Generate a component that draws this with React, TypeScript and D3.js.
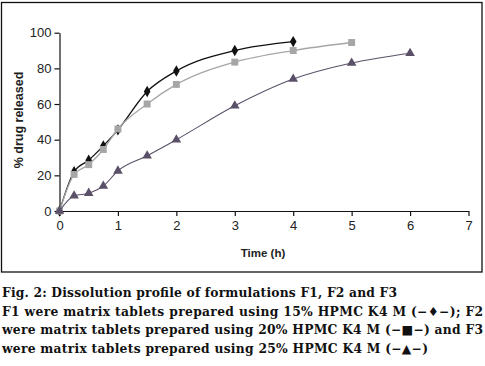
import { useEffect, useRef } from "react";
import * as d3 from "d3";

const times = [0, 0.25, 0.5, 0.75, 1, 1.5, 2, 3, 4, 5, 6];
const f1 = [0, 22, 28.5, 36.5, 45.5, 67, 78.5, 90, 95];
const f2 = [0, 20.5, 26, 34.5, 46, 60, 71, 83.5, 90, 94.5];
const f3 = [0, 8.5, 10, 14, 22.5, 31, 40, 59, 74, 83, 88.5];
const xTicks = [0, 1, 2, 3, 4, 5, 6, 7];
const yTicks = [0, 20, 40, 60, 80, 100];
const captionLines = [
  "Fig. 2: Dissolution profile of formulations F1, F2 and F3",
  "F1 were matrix tablets prepared using 15% HPMC K4 M (\u2212\u2666\u2212); F2",
  "were matrix tablets prepared using 20% HPMC K4 M (\u2212\u25a0\u2212) and F3",
  "were matrix tablets prepared using 25% HPMC K4 M (\u2212\u25b2\u2212)",
];

export default function App() {
  const svgRef = useRef<SVGSVGElement>(null);

  useEffect(() => {
    const svg = d3.select(svgRef.current);
    svg.selectAll("*").remove();

    // outer frame around the plot
    svg
      .append("rect")
      .attr("x", 1.5)
      .attr("y", 2.5)
      .attr("width", 480.5)
      .attr("height", 269.5)
      .attr("fill", "none")
      .attr("stroke", "#111")
      .attr("stroke-width", 1.3);

    const x = d3.scaleLinear().domain([0, 7]).range([59.5, 468.5]);
    const y = d3.scaleLinear().domain([0, 100]).range([211, 32.7]);

    const g = svg.append("g").style("font-family", "Liberation Sans, Arial, sans-serif");

    const xAxis = g
      .append("g")
      .attr("transform", `translate(0,${y(0)})`)
      .call(
        d3
          .axisBottom(x)
          .tickValues(xTicks)
          .tickFormat(d3.format("d"))
          .tickSize(5)
          .tickSizeOuter(0)
          .tickPadding(5)
      );
    const yAxis = g
      .append("g")
      .attr("transform", `translate(${x(0)},0)`)
      .call(d3.axisLeft(y).tickValues(yTicks).tickSize(5).tickSizeOuter(0).tickPadding(3));
    [xAxis, yAxis].forEach((a) => {
      a.select(".domain").attr("stroke", "#111").attr("stroke-width", 1.2);
      a.selectAll(".tick line").attr("stroke", "#111").attr("stroke-width", 1.2);
      a.selectAll(".tick text")
        .attr("fill", "#222")
        .style("font-size", "13px")
        .style("font-family", "Liberation Sans, Arial, sans-serif");
    });

    g.append("text")
      .attr("x", 263)
      .attr("y", 257)
      .attr("text-anchor", "middle")
      .attr("fill", "#222")
      .style("font-size", "11.5px")
      .style("font-weight", "bold")
      .text("Time (h)");

    g.append("text")
      .attr("transform", `translate(23,120) rotate(-90)`)
      .attr("text-anchor", "middle")
      .attr("fill", "#222")
      .style("font-size", "12.5px")
      .style("font-weight", "bold")
      .text("% drug released");

    const series = [
      { vals: f1, color: "#111111", width: 1.3, symbol: d3.symbolDiamond, size: 38 },
      { vals: f2, color: "#a6a6a6", width: 1.3, symbol: d3.symbolSquare, size: 48 },
      { vals: f3, color: "#5a5068", width: 1.1, symbol: d3.symbolTriangle, size: 40 },
    ];

    series.forEach((s) => {
      const pts = s.vals.map((v, i) => [times[i], v] as [number, number]);
      const line = d3
        .line<[number, number]>()
        .x((d) => x(d[0]))
        .y((d) => y(d[1]))
        .curve(d3.curveMonotoneX);
      g.append("path")
        .datum(pts)
        .attr("fill", "none")
        .attr("stroke", s.color)
        .attr("stroke-width", s.width)
        .attr("d", line);
      g.selectAll(null)
        .data(pts)
        .enter()
        .append("path")
        .attr("transform", (d) => `translate(${x(d[0])},${y(d[1])})`)
        .attr("d", d3.symbol().type(s.symbol).size(s.size)())
        .attr("fill", s.color);
    });

    const cap = svg
      .append("g")
      .style("font-family", "DejaVu Serif, serif")
      .style("font-weight", "bold")
      .style("font-size", "12.3px")
      .attr("fill", "#111");
    cap
      .selectAll("text")
      .data(captionLines)
      .enter()
      .append("text")
      .attr("x", 2)
      .attr("y", (_, i) => 297 + i * 18.5)
      .attr("textLength", (_, i) => [395, 481, 481, 426][i])
      .attr("lengthAdjust", "spacing")
      .text((d) => d);
  }, []);

  return (
    <svg
      ref={svgRef}
      width={485}
      height={366}
      style={{ position: "absolute", left: 0, top: 0, background: "#fff" }}
    />
  );
}
